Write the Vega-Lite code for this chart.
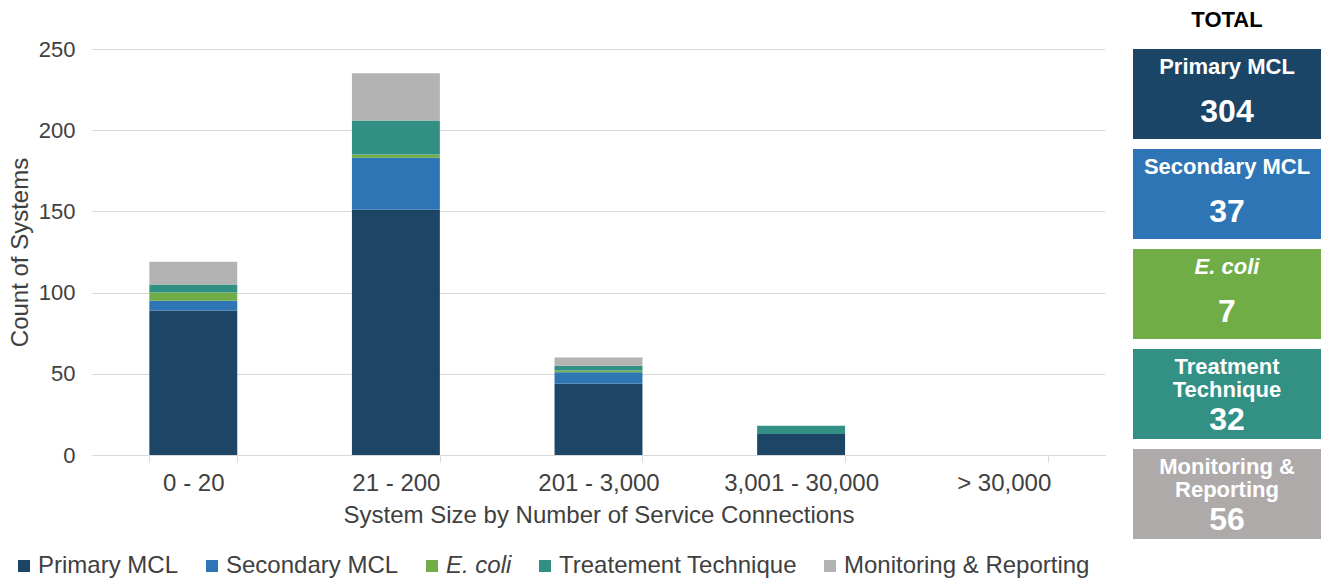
{
  "$schema": "https://vega.github.io/schema/vega-lite/v6.json",
  "padding": {"left": 8, "top": 9, "right": 0, "bottom": 0},
  "background": "white",
  "config": {"font": "Liberation Sans", "view": {"stroke": null}},
  "spacing": 28,
  "hconcat": [
    {
      "width": 1013,
      "height": 406,
      "data": {
        "values": [
          {"size": "0 - 20", "type": "Primary MCL", "k": 1, "count": 89},
          {"size": "0 - 20", "type": "Secondary MCL", "k": 2, "count": 6},
          {"size": "0 - 20", "type": "E. coli", "k": 3, "count": 5},
          {"size": "0 - 20", "type": "Treatement Technique", "k": 4, "count": 5},
          {"size": "0 - 20", "type": "Monitoring & Reporting", "k": 5, "count": 14},
          {"size": "21 - 200", "type": "Primary MCL", "k": 1, "count": 151},
          {"size": "21 - 200", "type": "Secondary MCL", "k": 2, "count": 32},
          {"size": "21 - 200", "type": "E. coli", "k": 3, "count": 2},
          {"size": "21 - 200", "type": "Treatement Technique", "k": 4, "count": 21},
          {"size": "21 - 200", "type": "Monitoring & Reporting", "k": 5, "count": 29},
          {"size": "201 - 3,000", "type": "Primary MCL", "k": 1, "count": 44},
          {"size": "201 - 3,000", "type": "Secondary MCL", "k": 2, "count": 7},
          {"size": "201 - 3,000", "type": "E. coli", "k": 3, "count": 1},
          {"size": "201 - 3,000", "type": "Treatement Technique", "k": 4, "count": 3},
          {"size": "201 - 3,000", "type": "Monitoring & Reporting", "k": 5, "count": 5},
          {"size": "3,001 - 30,000", "type": "Primary MCL", "k": 1, "count": 13},
          {"size": "3,001 - 30,000", "type": "Secondary MCL", "k": 2, "count": 0},
          {"size": "3,001 - 30,000", "type": "E. coli", "k": 3, "count": 0},
          {"size": "3,001 - 30,000", "type": "Treatement Technique", "k": 4, "count": 5},
          {"size": "3,001 - 30,000", "type": "Monitoring & Reporting", "k": 5, "count": 0},
          {"size": "> 30,000", "type": "Primary MCL", "k": 1, "count": 0},
          {"size": "> 30,000", "type": "Secondary MCL", "k": 2, "count": 0},
          {"size": "> 30,000", "type": "E. coli", "k": 3, "count": 0},
          {"size": "> 30,000", "type": "Treatement Technique", "k": 4, "count": 0},
          {"size": "> 30,000", "type": "Monitoring & Reporting", "k": 5, "count": 0}
        ]
      },
      "mark": {"type": "bar"},
      "encoding": {
        "x": {
          "field": "size",
          "type": "nominal",
          "sort": ["0 - 20", "21 - 200", "201 - 3,000", "3,001 - 30,000", "> 30,000"],
          "scale": {"paddingInner": 0.566, "paddingOuter": 0.283},
          "axis": {
            "title": "System Size by Number of Service Connections",
            "labelAngle": 0,
            "labelFontSize": 24,
            "labelColor": "#404040",
            "labelPadding": 9,
            "titleFontSize": 24,
            "titleFontWeight": "normal",
            "titleColor": "#404040",
            "titlePadding": 8,
            "tickBand": "extent",
            "tickColor": "#d9d9d9",
            "tickSize": 7,
            "domainColor": "#d9d9d9",
            "grid": false
          }
        },
        "y": {
          "field": "count",
          "type": "quantitative",
          "stack": "zero",
          "scale": {"domain": [0, 250], "nice": false},
          "axis": {
            "title": "Count of Systems",
            "values": [0, 50, 100, 150, 200, 250],
            "ticks": false,
            "tickSize": 0,
            "domain": false,
            "labelFontSize": 22,
            "labelColor": "#404040",
            "labelPadding": 17,
            "titleFontSize": 24,
            "titleFontWeight": "normal",
            "titleColor": "#404040",
            "titlePadding": 6,
            "gridColor": "#d9d9d9"
          }
        },
        "color": {
          "field": "type",
          "type": "nominal",
          "scale": {
            "domain": ["Primary MCL", "Secondary MCL", "E. coli", "Treatement Technique", "Monitoring & Reporting"],
            "range": ["#1c4566", "#2e75b6", "#70ad47", "#328f83", "#b3b3b3"]
          },
          "legend": {
            "title": null,
            "orient": "none",
            "legendX": -80,
            "legendY": 505,
            "direction": "horizontal",
            "symbolType": "square",
            "symbolSize": 144,
            "symbolStrokeWidth": 0,
            "labelFontSize": 24,
            "labelColor": "#404040",
            "labelOffset": 2,
            "labelLimit": 400,
            "columnPadding": 21,
            "encode": {
              "labels": {
                "update": {
                  "fontStyle": {"signal": "datum.label == 'E. coli' ? 'italic' : 'normal'"}
                }
              }
            }
          }
        },
        "order": {"field": "k", "type": "quantitative"}
      }
    },
    {
      "width": 188,
      "height": 490,
      "title": {
        "text": "TOTAL",
        "fontSize": 22,
        "fontWeight": "bold",
        "color": "#000000",
        "offset": -5,
        "baseline": "bottom",
        "anchor": "middle"
      },
      "data": {
        "values": [
          {"k": 1, "box": "Primary MCL", "label": "Primary MCL", "total": 304},
          {"k": 2, "box": "Secondary MCL", "label": "Secondary MCL", "total": 37},
          {"k": 3, "box": "E. coli", "label": "E. coli", "total": 7},
          {"k": 4, "box": "Treatment Technique", "label": "Treatment\nTechnique", "total": 32},
          {"k": 5, "box": "Monitoring & Reporting", "label": "Monitoring &\nReporting", "total": 56}
        ]
      },
      "encoding": {
        "y": {"field": "k", "type": "ordinal", "axis": null, "scale": {"paddingInner": 0.1, "paddingOuter": 0}}
      },
      "layer": [
        {
          "mark": {"type": "rect"},
          "encoding": {
            "x": {"value": 0},
            "x2": {"value": "width"},
            "color": {
              "field": "box",
              "type": "nominal",
              "scale": {
                "domain": ["Primary MCL", "Secondary MCL", "E. coli", "Treatment Technique", "Monitoring & Reporting"],
                "range": ["#1b4566", "#2e75b6", "#70ad47", "#339085", "#aeaaaa"]
              },
              "legend": null
            }
          }
        },
        {
          "transform": [{"filter": "datum.k != 3"}],
          "mark": {"type": "text", "baseline": "top", "dy": 8, "fontSize": 22, "fontWeight": "bold", "color": "white", "lineBreak": "\n", "lineHeight": 23},
          "encoding": {
            "y": {"field": "k", "type": "ordinal", "bandPosition": 0},
            "text": {"field": "label"}
          }
        },
        {
          "transform": [{"filter": "datum.k == 3"}],
          "mark": {"type": "text", "baseline": "top", "dy": 8, "fontSize": 22, "fontWeight": "bold", "fontStyle": "italic", "color": "white"},
          "encoding": {
            "y": {"field": "k", "type": "ordinal", "bandPosition": 0},
            "text": {"field": "label"}
          }
        },
        {
          "transform": [{"filter": "datum.k <= 3"}],
          "mark": {"type": "text", "baseline": "middle", "dy": 63, "fontSize": 32, "fontWeight": "bold", "color": "white"},
          "encoding": {
            "y": {"field": "k", "type": "ordinal", "bandPosition": 0},
            "text": {"field": "total"}
          }
        },
        {
          "transform": [{"filter": "datum.k >= 4"}],
          "mark": {"type": "text", "baseline": "middle", "dy": 71, "fontSize": 32, "fontWeight": "bold", "color": "white"},
          "encoding": {
            "y": {"field": "k", "type": "ordinal", "bandPosition": 0},
            "text": {"field": "total"}
          }
        }
      ]
    }
  ],
  "resolve": {"scale": {"color": "independent"}}
}
